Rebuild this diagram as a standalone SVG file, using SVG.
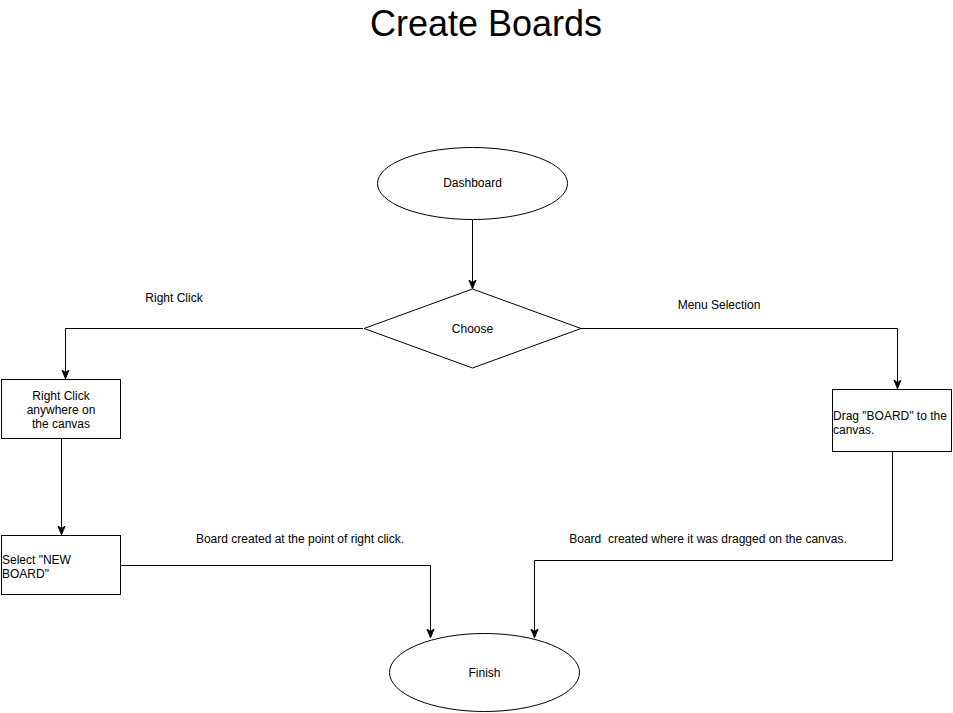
<svg xmlns="http://www.w3.org/2000/svg" width="953" height="713" viewBox="0 0 953 713">
<style>
.s{fill:#fff;stroke:#000;stroke-width:1}
.c{fill:none;stroke:#000;stroke-width:1}
text{font-family:"Liberation Sans",Arial,sans-serif;font-size:12px;fill:#000}
.m{text-anchor:middle}
</style>
<defs>
<marker id="a" viewBox="0 0 10 10" refX="9" refY="5" markerWidth="9" markerHeight="9" markerUnits="userSpaceOnUse" orient="auto">
<path d="M0,1 L10,5 L0,9 L3,5 Z" fill="#000" stroke="#000"/>
</marker>
</defs>
<rect width="953" height="713" fill="#fff"/>
<text x="486" y="36" class="m" style="font-size:36px">Create Boards</text>
<g id="connectors">
<path class="c" d="M472.5,220 V288" marker-end="url(#a)"/>
<path class="c" d="M363,328.5 H65.5 V378" marker-end="url(#a)"/>
<path class="c" d="M581,328.5 H897.5 V388" marker-end="url(#a)"/>
<path class="c" d="M61.5,439 V534" marker-end="url(#a)"/>
<path class="c" d="M121,565.5 H430.5 V637" marker-end="url(#a)"/>
<path class="c" d="M892.5,452 V560.5 H534.5 V637" marker-end="url(#a)"/>
<text x="174" y="302" class="m">Right Click</text>
<text x="719" y="309" class="m">Menu Selection</text>
<text x="300" y="543" class="m">Board created at the point of right click.</text>
<text x="708" y="543" class="m" style="white-space:pre">Board  created where it was dragged on the canvas.</text>
</g>
<g id="dashboard">
<ellipse class="s" cx="472.5" cy="183.5" rx="95" ry="36"/>
<text x="472.5" y="186.5" class="m">Dashboard</text>
</g>
<g id="choose">
<polygon class="s" points="472.5,289 581,328.5 472.5,368 364,328.5"/>
<text x="472.5" y="332.5" class="m">Choose</text>
</g>
<g id="rightclick">
<rect class="s" x="1.5" y="379.5" width="119" height="59"/>
<text x="61" y="400" class="m">Right Click</text>
<text x="61" y="414" class="m">anywhere on</text>
<text x="61" y="428" class="m">the canvas</text>
</g>
<g id="newboard">
<rect class="s" x="1.5" y="535.5" width="119" height="59"/>
<text x="2" y="564">Select "NEW</text>
<text x="2" y="578">BOARD"</text>
</g>
<g id="drag">
<rect class="s" x="832.5" y="389.5" width="119" height="62"/>
<text x="833" y="420">Drag "BOARD" to the</text>
<text x="833" y="434">canvas.</text>
</g>
<g id="finish">
<ellipse class="s" cx="484.5" cy="672.5" rx="95" ry="39"/>
<text x="484.5" y="676.5" class="m">Finish</text>
</g>
</svg>
